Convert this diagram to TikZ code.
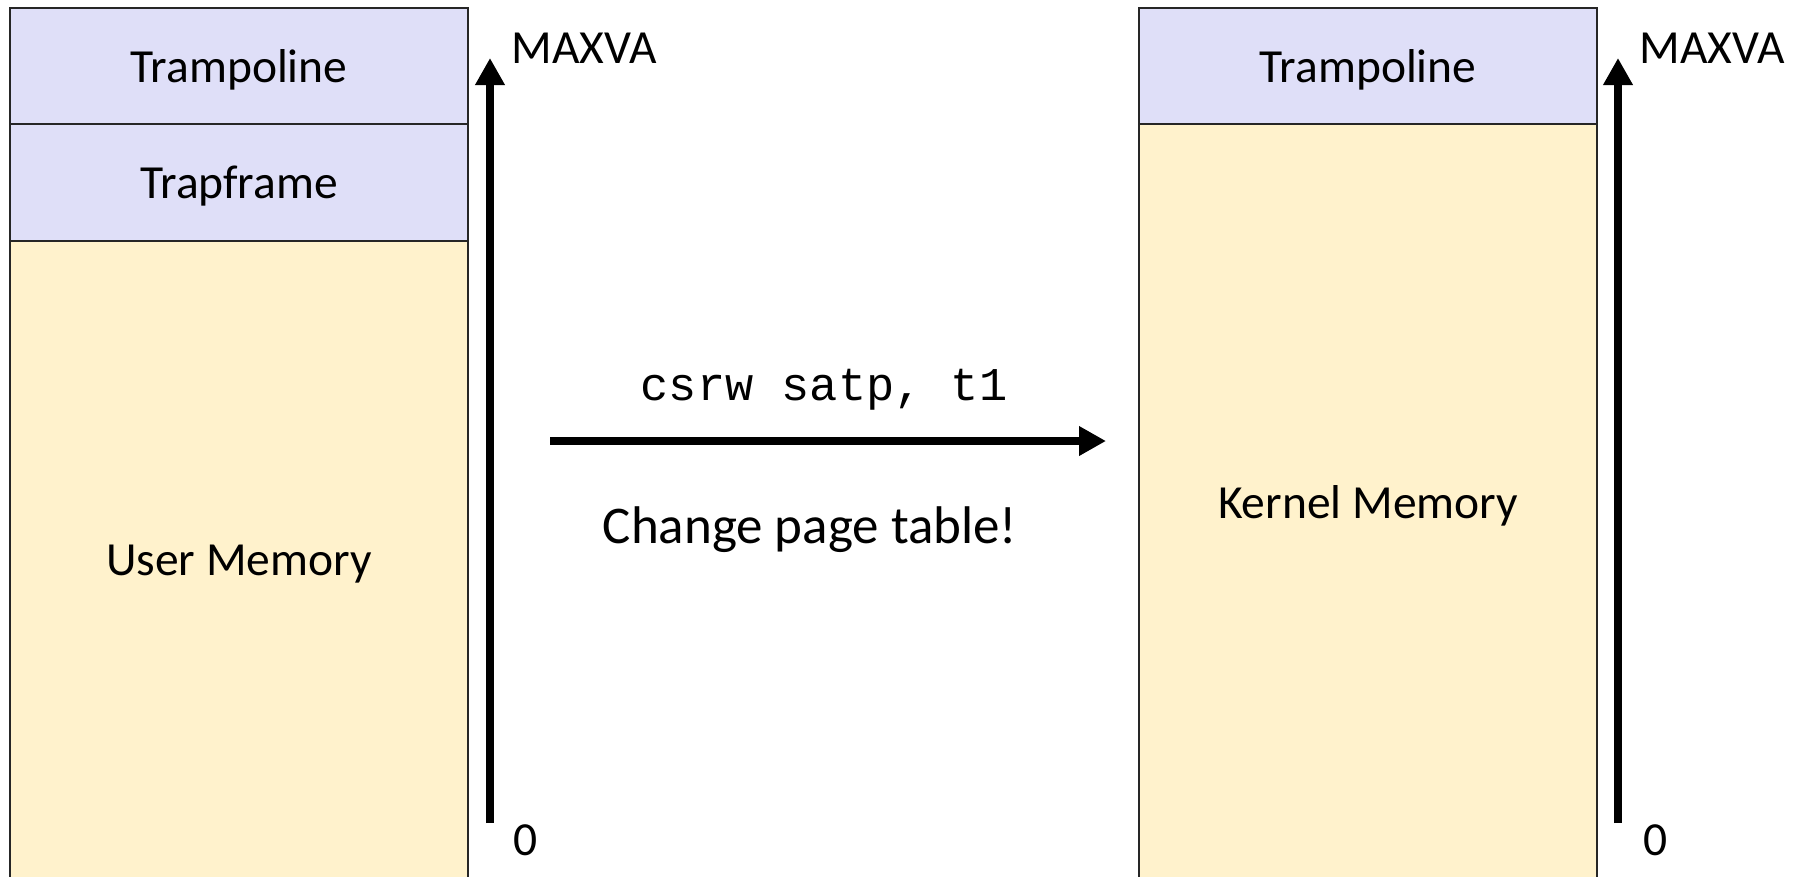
\documentclass[tikz,border=0pt]{standalone}
\usepackage{fontspec}
\setmainfont{Carlito}
\newfontfamily\codefont{Liberation Mono}
\usetikzlibrary{arrows.meta}
\definecolor{lav}{RGB}{223,223,248}
\definecolor{gold}{RGB}{255,242,204}
\tikzset{
  lbl/.style={font=\fontsize{47.5}{56}\selectfont, inner sep=0pt},
  seg/.style={draw=black!85, line width=2pt, anchor=north west, inner sep=0pt,
    minimum width=458pt,
    label={[lbl, yshift=-3.5pt]center:#1}},
  lavseg/.style={seg=#1, fill=lav},
  goldseg/.style={seg=#1, fill=gold},
  bigarrow/.style={line width=8pt, -{Triangle[length=27pt,width=28pt]}}
}
\begin{document}
\begin{tikzpicture}[x=1pt,y=-1pt]
\useasboundingbox (0,0) rectangle (1793,876);
% left stack
\node[lavseg=Trampoline, minimum height=116pt] (ltramp) at (9,7) {};
\node[lavseg=Trapframe, minimum height=117pt] (ltrap) at (9,123) {};
\node[goldseg=User Memory, minimum height=640pt] (luser) at (9,240) {};
% right stack
\node[lavseg=Trampoline, minimum height=116pt] (rtramp) at (1138,7) {};
\node[goldseg=Kernel Memory, minimum height=757pt] (rkern) at (1138,123) {};
% left axis
\coordinate (la0) at (490,823);
\coordinate (la1) at (490,58);
\draw[bigarrow] (la0) -- (la1);
\node[lbl] (lmax) at (584,48) {MAXVA};
\node[lbl] (lzero) at (526,840) {0};
% right axis
\coordinate (ra0) at (1618,823);
\coordinate (ra1) at (1618,58);
\draw[bigarrow] (ra0) -- (ra1);
\node[lbl] (rmax) at (1712,48) {MAXVA};
\node[lbl] (rzero) at (1656,840) {0};
% middle transition
\coordinate (m0) at (550,441);
\coordinate (m1) at (1106,441);
\draw[bigarrow] (m0) -- (m1);
\node[inner sep=0pt, font=\codefont\fontsize{47}{56}\selectfont] (cmd) at (824,389.5) {csrw satp, t1};
\node[inner sep=0pt, font=\fontsize{53}{63}\selectfont] (chg) at (810,529.5) {Change page table!};
\end{tikzpicture}
\end{document}
